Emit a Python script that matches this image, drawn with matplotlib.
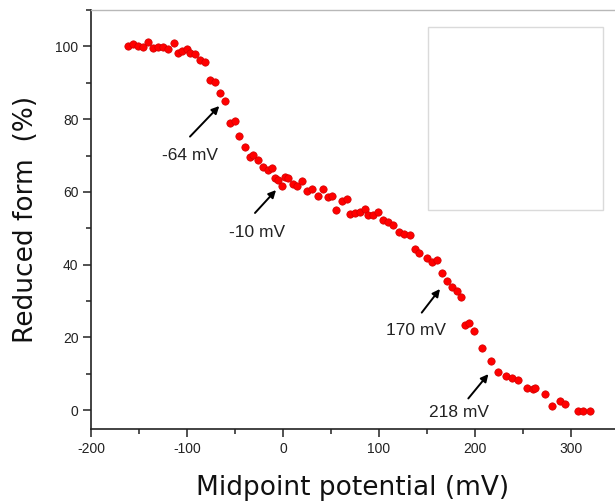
import matplotlib.pyplot as plt
from matplotlib.patches import Rectangle
from matplotlib.ticker import MultipleLocator

# Midpoint potential (mV) and reduced form (%)
potential = [-161.1, -155.9, -150.7, -145.5, -140.3, -135.1, -129.9, -124.7, -119.5, -113.5,
             -109.1, -105.5, -100.3, -96.9, -91.7, -86.5, -81.3, -76.0, -70.8, -65.6,
             -60.4, -55.2, -50.0, -45.5, -39.6, -34.4, -30.9, -25.7, -20.5, -15.3,
             -11.8, -8.3, -4.9, -1.4, 2.1, 5.5, 10.7, 14.3, 19.5, 24.7,
             29.9, 36.8, 41.4, 47.2, 50.7, 55.2, 61.1, 66.4, 69.8, 75.0,
             80.2, 85.4, 88.9, 94.1, 98.6, 104.5, 109.7, 114.3, 121.1, 126.0,
             132.3, 137.5, 142.0, 149.7, 154.9, 160.1, 165.3, 170.5, 175.7, 180.9,
             185.1, 189.6, 194.1, 199.0, 207.0, 216.7, 224.3, 232.3, 238.2, 245.1,
             253.9, 260.1, 262.5, 272.9, 279.9, 288.5, 293.8, 307.0, 312.8, 319.8]
reduced = [100.1, 100.6, 100.1, 99.7, 101.3, 99.5, 99.7, 99.9, 99.3, 100.8,
           98.3, 98.6, 99.2, 98.1, 97.9, 96.3, 95.6, 90.8, 90.1, 87.3,
           85.0, 79.0, 79.6, 75.4, 72.2, 69.7, 70.1, 68.8, 66.9, 66.0,
           66.5, 63.7, 63.4, 61.6, 64.2, 63.7, 62.3, 61.6, 63.1, 60.3,
           60.7, 58.9, 60.7, 58.7, 58.9, 55.0, 57.6, 58.0, 53.9, 54.3,
           54.5, 55.2, 53.6, 53.6, 54.6, 52.3, 51.8, 50.9, 49.0, 48.4,
           48.1, 44.2, 43.3, 41.7, 40.8, 41.4, 37.8, 35.6, 33.9, 32.8,
           31.0, 23.4, 24.0, 21.8, 17.2, 13.6, 10.4, 9.3, 8.7, 8.3,
           6.1, 5.7, 6.2, 4.3, 1.1, 2.6, 1.7, -0.3, -0.3, -0.3]

# annotation labels: (text, arrow head, arrow tail, text centre)
notes = [("-64 mV", (-66.4, 83.6), (-96.9, 75.2), (-96.9, 70.1)),
         ("-10 mV", (-7.3, 60.5), (-29.2, 54.2), (-26.6, 48.7)),
         ("170 mV", (163.5, 33.3), (144.5, 26.8), (138.5, 22.0)),
         ("218 mV", (213.9, 9.9), (193.0, 3.2), (183.3, -0.6))]

plt.rcParams['font.family'] = ['Liberation Sans', 'DejaVu Sans']
plt.rcParams['axes.unicode_minus'] = False

fig = plt.figure(figsize=(6.15, 5.01), dpi=100)
ax = fig.add_axes([0.148, 0.1437, 0.852, 0.8363])

ax.scatter(potential, reduced, s=28, color='#ff0000', edgecolors='#d00000',
           linewidths=0.5, zorder=3)

for label, head, tail, pos in notes:
    ax.annotate('', xy=head, xytext=tail,
                arrowprops=dict(arrowstyle='-|>', color='black', lw=1.4,
                                mutation_scale=11, shrinkA=0, shrinkB=0))
    ax.text(pos[0], pos[1], label, fontsize=12.5, color='#222222',
            ha='center', va='center')

ax.set_xlim(-200, 345.8)
ax.set_ylim(-5.2, 110)
ax.xaxis.set_major_locator(MultipleLocator(100))
ax.xaxis.set_minor_locator(MultipleLocator(50))
ax.set_yticks([0, 20, 40, 60, 80, 100])
ax.yaxis.set_minor_locator(MultipleLocator(10))
ax.tick_params(which='major', direction='out', length=6, width=1.1,
               labelsize=10, colors='#222222', pad=3)
ax.tick_params(which='minor', direction='out', length=3.5, width=1.1,
               colors='#222222')

ax.spines['right'].set_visible(False)
ax.spines['top'].set_color('#b8b8b8')
ax.spines['top'].set_linewidth(1.0)
for side in ['left', 'bottom']:
    ax.spines[side].set_color('#222222')
    ax.spines[side].set_linewidth(1.2)

ax.set_xlabel('Midpoint potential (mV)', fontsize=19, family='DejaVu Sans',
              color='#111111', labelpad=14)
ax.set_ylabel('Reduced form  (%)', fontsize=19, family='DejaVu Sans',
              color='#111111', labelpad=12)

# faded inset frame (blank)
fig.patches.append(Rectangle((0.696, 0.581), 0.2846, 0.365, transform=fig.transFigure,
                             facecolor='white', edgecolor='#dadada', lw=1.0, zorder=5))

plt.savefig('out.png', dpi=100)
